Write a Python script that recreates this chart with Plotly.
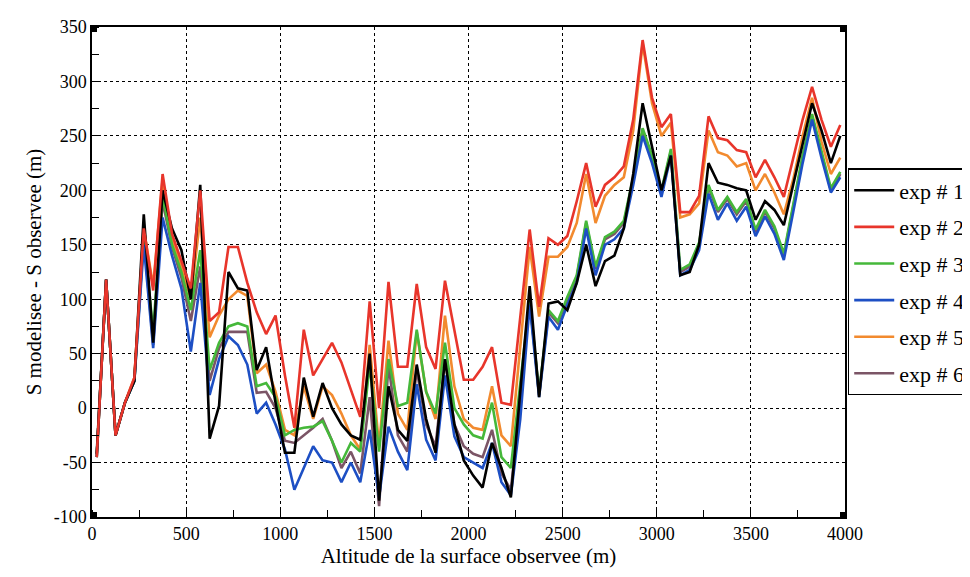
import plotly.graph_objects as go

altitude = [25 + 50 * i for i in range(80)]

exp1 = [-42, 118, -25, 5, 25, 178, 60, 200, 165, 145, 100, 205, -28, 2, 125, 110, 108, 35, 56, 5,
        -41, -41, 28, -8, 23, 0, -15, -25, -29, 50, -85, 20, -20, -30, 40, -10, -41, 45, -15, -48,
        -62, -73, -32, -55, -82, 15, 112, 10, 96, 98, 90, 115, 150, 112, 135, 140, 165, 215, 280, 240,
        200, 232, 122, 125, 150, 225, 207, 205, 202, 200, 173, 190, 182, 168, 205, 245, 280, 255, 225, 250]
exp2 = [-45, 118, -25, 5, 28, 165, 108, 215, 160, 135, 110, 200, 80, 88, 148, 148, 115, 88, 68, 85,
        30, -18, 72, 30, 45, 60, 42, 18, -8, 98, 0, 116, 38, 38, 114, 56, 36, 117, 70, 26,
        26, 38, 56, 5, 3, 85, 164, 93, 156, 150, 158, 190, 225, 185, 205, 212, 222, 265, 338, 285,
        258, 270, 180, 180, 195, 268, 248, 246, 237, 235, 212, 228, 212, 194, 231, 265, 295, 265, 240, 260]
exp3 = [-45, 118, -25, 5, 25, 160, 70, 195, 150, 125, 90, 145, 35, 60, 75, 78, 75, 20, 23, 10,
        -25, -20, -18, -17, -12, -30, -50, -32, -40, 40, -40, 45, 2, 5, 72, 15, -5, 60, 0, -15,
        -25, -28, 5, -45, -55, 20, 100, 14, 90, 80, 102, 122, 172, 130, 157, 162, 172, 212, 257, 232,
        200, 238, 127, 132, 152, 205, 182, 194, 180, 192, 164, 182, 167, 142, 187, 232, 270, 237, 202, 217]
exp4 = [-45, 118, -25, 5, 25, 150, 55, 175, 140, 110, 52, 115, 12, 45, 66, 58, 40, -5, 5, -15,
        -38, -75, -55, -35, -48, -50, -68, -50, -68, -20, -82, -17, -40, -57, 22, -29, -48, 30, -26, -45,
        -50, -55, -32, -68, -80, -10, 95, 10, 84, 72, 95, 115, 165, 122, 150, 155, 165, 205, 250, 225,
        194, 232, 122, 127, 145, 197, 173, 188, 172, 185, 158, 176, 160, 136, 180, 225, 265, 230, 198, 212]
exp5 = [-45, 118, -25, 5, 28, 165, 112, 210, 155, 130, 100, 175, 65, 85, 100, 108, 103, 32, 40, 15,
        -20, -25, 20, -10, 20, 12, -5, -25, -38, 58, -35, 62, -5, -20, 70, 15, -10, 85, 20, -10,
        -18, -20, 20, -25, -35, 60, 148, 84, 139, 139, 148, 170, 215, 170, 195, 205, 212, 255, 335, 280,
        250, 262, 175, 178, 188, 255, 235, 232, 222, 225, 200, 215, 198, 178, 210, 250, 285, 245, 215, 230]
exp6 = [-45, 118, -25, 5, 25, 158, 58, 190, 148, 120, 80, 130, 25, 55, 70, 70, 70, 14, 15, 0,
        -30, -32, -25, -18, -10, -30, -55, -40, -60, 10, -90, 40, -25, -40, 35, -15, -35, 45, -15, -35,
        -42, -45, -20, -60, -75, 5, 100, 12, 88, 78, 100, 120, 170, 128, 155, 160, 170, 210, 255, 230,
        198, 236, 125, 130, 150, 203, 180, 192, 178, 190, 162, 180, 165, 140, 185, 230, 268, 235, 200, 215]

series_names = ["exp # 1", "exp # 2", "exp # 3", "exp # 4", "exp # 5", "exp # 6"]
series_values = [exp1, exp2, exp3, exp4, exp5, exp6]
series_colors = ["#000000", "#e8352b", "#45b83a", "#1d4fc4", "#f28a2e", "#7b5566"]
draw_order = [5, 4, 2, 3, 0, 1]  # red and black on top

x_ticks = [0, 500, 1000, 1500, 2000, 2500, 3000, 3500, 4000]
y_ticks = [-100, -50, 0, 50, 100, 150, 200, 250, 300, 350]

serif = "Liberation Serif, Times New Roman, serif"

fig = go.Figure()
for i in range(6):
    fig.add_trace(go.Scatter(
        x=altitude, y=series_values[i], mode="lines", name=series_names[i],
        legendgroup=series_names[i], legendrank=i + 1,
        line=dict(color=series_colors[i], width=2.6),
    ))
fig.data = tuple(fig.data[j] for j in draw_order)

axis_common = dict(
    showline=True, linecolor="black", linewidth=1.5, mirror=True,
    showgrid=True, gridcolor="black", griddash="dot", gridwidth=1,
    zeroline=False, ticks="", tickfont=dict(family=serif, size=18, color="black"),
)
fig.update_xaxes(
    range=[0, 4000], tickvals=x_ticks, ticktext=[str(v) for v in x_ticks],
    minor=dict(ticks="inside", dtick=250, tick0=0, ticklen=7, tickcolor="black", showgrid=False),
    title=dict(text="Altitude de la surface observee (m)", font=dict(family=serif, size=21, color="black"), standoff=2),
    **axis_common,
)
fig.update_yaxes(
    range=[-100, 350], tickvals=y_ticks, ticktext=[str(v) for v in y_ticks],
    minor=dict(ticks="inside", dtick=25, tick0=0, ticklen=7, tickcolor="black", showgrid=False),
    title=dict(text="S modelisee - S observee (m)", font=dict(family=serif, size=21, color="black"), standoff=6),
    **axis_common,
)

for cx in (0, 4000):
    for cy in (-100, 350):
        fig.add_shape(type="rect", xref="x", yref="y", xsizemode="pixel", ysizemode="pixel",
                      xanchor=cx, yanchor=cy, x0=-5, x1=5, y0=-5, y1=5,
                      fillcolor="black", line=dict(width=0), layer="above")

fig.update_layout(
    width=962, height=569,
    margin=dict(l=84, r=125, t=19, b=60, autoexpand=False),
    paper_bgcolor="white", plot_bgcolor="white",
    showlegend=True,
    legend=dict(
        x=1.004, xanchor="left", y=0.48, yanchor="middle",
        bordercolor="black", borderwidth=1.2, bgcolor="white",
        font=dict(family=serif, size=22, color="black"),
        traceorder="grouped", tracegroupgap=5,
        itemwidth=40,
    ),
)

fig.write_html("out.html")
